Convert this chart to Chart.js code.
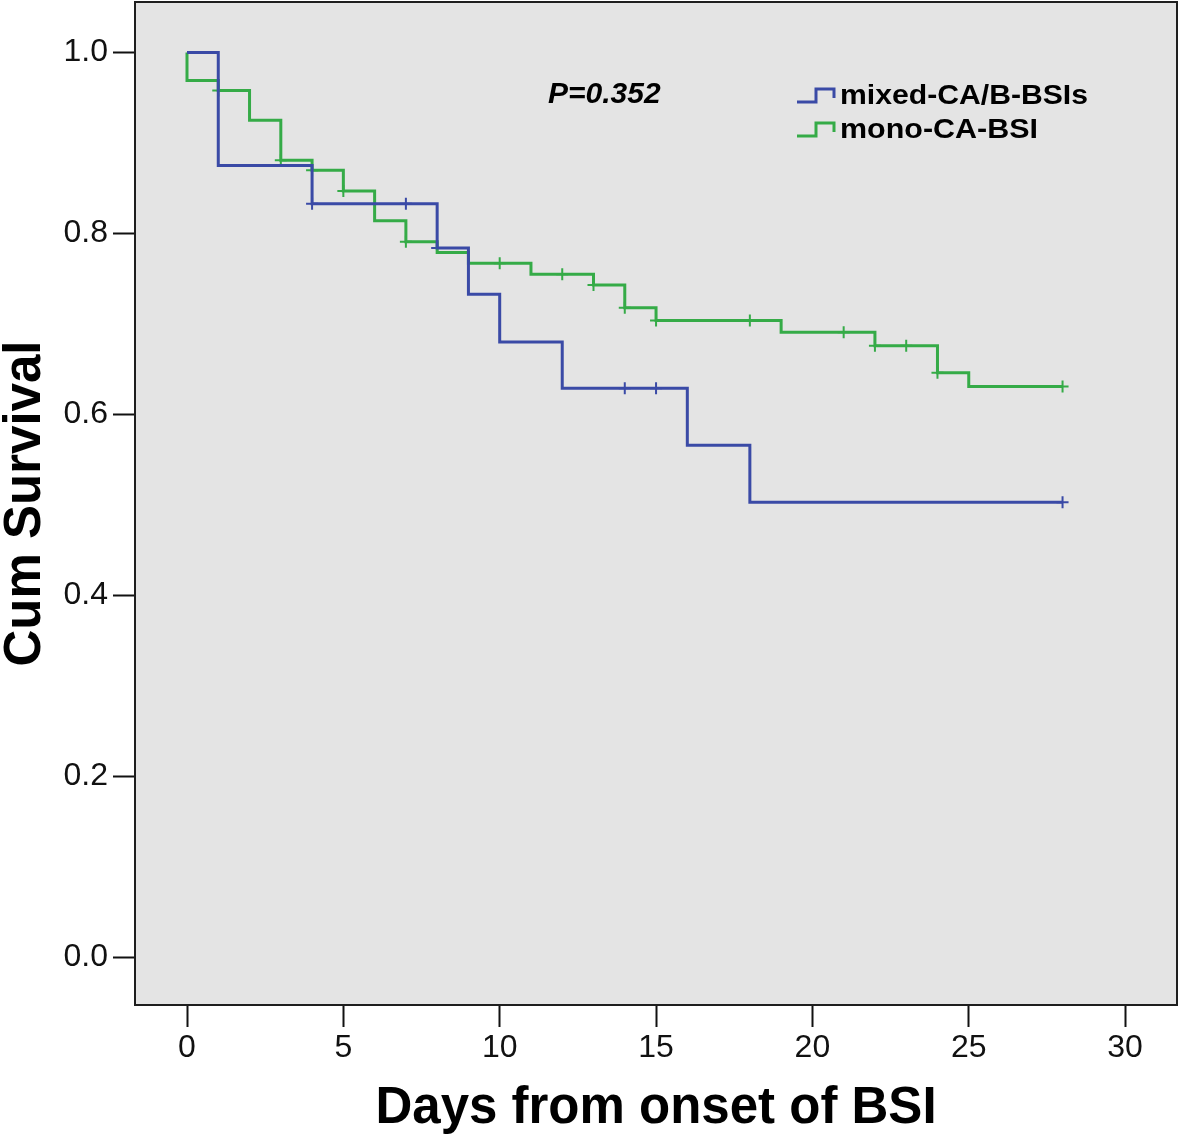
<!DOCTYPE html>
<html><head><meta charset="utf-8">
<script src="https://cdn.jsdelivr.net/npm/chart.js@4.4.1/dist/chart.umd.min.js"></script>
<style>html,body{margin:0;padding:0;background:#fff;overflow:hidden}</style>
</head><body>
<canvas id="c" width="1181" height="1141" style="width:1181px;height:1141px;display:block"></canvas>
<script>
// ---- data ----
const seriesNames = ['mixed-CA/B-BSIs', 'mono-CA-BSI'];
const mixedTimes = [0, 1, 4, 8, 9, 10, 12, 16, 18, 28];
const mixedSurv  = [1.0, 0.875, 0.833, 0.784, 0.733, 0.680, 0.629, 0.566, 0.503, 0.503];
const mixedCensor = [4, 7, 8, 14, 15, 28];
const monoTimes = [0, 0, 1, 2, 3, 4, 5, 6, 7, 8, 9, 11, 13, 14, 15, 19, 22, 24, 25, 28];
const monoSurv  = [1.0, 0.969, 0.958, 0.925, 0.881, 0.870, 0.847, 0.814, 0.791, 0.779, 0.767, 0.755, 0.743, 0.718, 0.704, 0.691, 0.676, 0.646, 0.631, 0.631];
const monoCensor = [1, 3, 4, 5, 7, 10, 12, 13, 14, 15, 18, 21, 22, 23, 24, 28];
const xTickValues = [0, 5, 10, 15, 20, 25, 30];
const yTickValues = [0.0, 0.2, 0.4, 0.6, 0.8, 1.0];
const pValueText = 'P=0.352';
const xTitle = 'Days from onset of BSI';
const yTitle = 'Cum Survival';

const BLUE = '#3a4aa6';
const GREEN = '#35ab47';

function pts(ts, vs){ return ts.map((t,i)=>({x:t, y:vs[i]})); }
function survAt(ts, vs, t){ let v = vs[0]; for(let i=0;i<ts.length;i++){ if(ts[i] <= t) v = vs[i]; } return v; }
function censorPts(cs, ts, vs){ return cs.map(t=>({x:t, y:survAt(ts, vs, t)})); }

const bgPlugin = {
  id:'bg',
  beforeDraw(chart){
    const {ctx, chartArea:a} = chart;
    ctx.save(); ctx.fillStyle = '#e4e4e4';
    ctx.fillRect(a.left, a.top, a.right-a.left, a.bottom-a.top);
    ctx.restore();
  },
  afterDraw(chart){
    const {ctx, chartArea:a} = chart;
    ctx.save();
    ctx.strokeStyle = '#1e1e1e'; ctx.lineWidth = 2;
    ctx.strokeRect(a.left, a.top, a.right-a.left, a.bottom-a.top);
    // p-value
    ctx.fillStyle = '#000';
    ctx.font = 'italic bold 30px "Liberation Sans", Arial, sans-serif';
    ctx.textBaseline = 'middle'; ctx.textAlign = 'left';
    ctx.fillText(pValueText, 548, 95);
    // legend
    const rows = [{c:BLUE, y:97, t:seriesNames[0], w:248}, {c:GREEN, y:131, t:seriesNames[1], w:198}];
    rows.forEach(r=>{
      ctx.strokeStyle = r.c; ctx.lineWidth = 3; ctx.lineJoin = 'miter';
      ctx.beginPath();
      ctx.moveTo(797, r.y+5); ctx.lineTo(816, r.y+5); ctx.lineTo(816, r.y-8);
      ctx.lineTo(834, r.y-8); ctx.lineTo(834, r.y+1);
      ctx.stroke();
      ctx.fillStyle = '#000';
      ctx.font = 'bold 27px "Liberation Sans", Arial, sans-serif';
      const w = ctx.measureText(r.t).width;
      ctx.save();
      ctx.translate(840, r.y);
      ctx.scale(r.w / w, 1);
      ctx.fillText(r.t, 0, 0);
      ctx.restore();
    });
    ctx.restore();
  }
};

new Chart(document.getElementById('c'), {
  type:'line',
  data:{
    datasets:[
      {label:seriesNames[0], data:pts(mixedTimes, mixedSurv), borderColor:BLUE, borderWidth:3, stepped:true, pointRadius:0, fill:false},
      {label:seriesNames[1], data:pts(monoTimes, monoSurv), borderColor:GREEN, borderWidth:3, stepped:true, pointRadius:0, fill:false},
      {label:'c1', type:'scatter', data:censorPts(mixedCensor, mixedTimes, mixedSurv), pointStyle:'cross', pointRadius:6, borderColor:BLUE, pointBorderWidth:2, backgroundColor:BLUE},
      {label:'c2', type:'scatter', data:censorPts(monoCensor, monoTimes, monoSurv), pointStyle:'cross', pointRadius:6, borderColor:GREEN, pointBorderWidth:2, backgroundColor:GREEN}
    ]
  },
  options:{
    responsive:false, animation:false, devicePixelRatio:1,
    layout:{autoPadding:false, padding:{top:2, right:4, bottom:0, left:0}},
    plugins:{legend:{display:false}, tooltip:{enabled:false}},
    scales:{
      x:{type:'linear', min:-1.663, max:31.66,
        afterBuildTicks(s){ s.ticks = xTickValues.map(v=>({value:v})); },
        afterFit(s){ s.height = 136; s.paddingLeft = 0; s.paddingRight = 0; },
        grid:{drawOnChartArea:false, drawTicks:true, tickLength:22, tickColor:'#111', tickWidth:2},
        border:{display:false},
        ticks:{color:'#111', padding:2, font:{family:'"Liberation Sans", Arial, sans-serif', size:32, lineHeight:1.2}, maxRotation:0, callback:v=>String(v)},
        title:{display:true, text:xTitle, color:'#000', padding:{top:0, bottom:7}, font:{family:'"Liberation Sans", Arial, sans-serif', size:51, weight:'bold', lineHeight:1}}
      },
      y:{type:'linear', min:-0.0525, max:1.0558,
        afterBuildTicks(s){ s.ticks = yTickValues.map(v=>({value:v})); },
        afterFit(s){ s.width = 135; s.paddingTop = 0; s.paddingBottom = 0; },
        grid:{drawOnChartArea:false, drawTicks:true, tickLength:22, tickColor:'#111', tickWidth:2},
        border:{display:false},
        ticks:{color:'#111', padding:5, font:{family:'"Liberation Sans", Arial, sans-serif', size:32}, callback:v=>v.toFixed(1)},
        title:{display:true, text:yTitle, color:'#000', padding:{top:0, bottom:0}, font:{family:'"Liberation Sans", Arial, sans-serif', size:51, weight:'bold', lineHeight:1}}
      }
    }
  },
  plugins:[bgPlugin]
});
</script>
</body></html>
